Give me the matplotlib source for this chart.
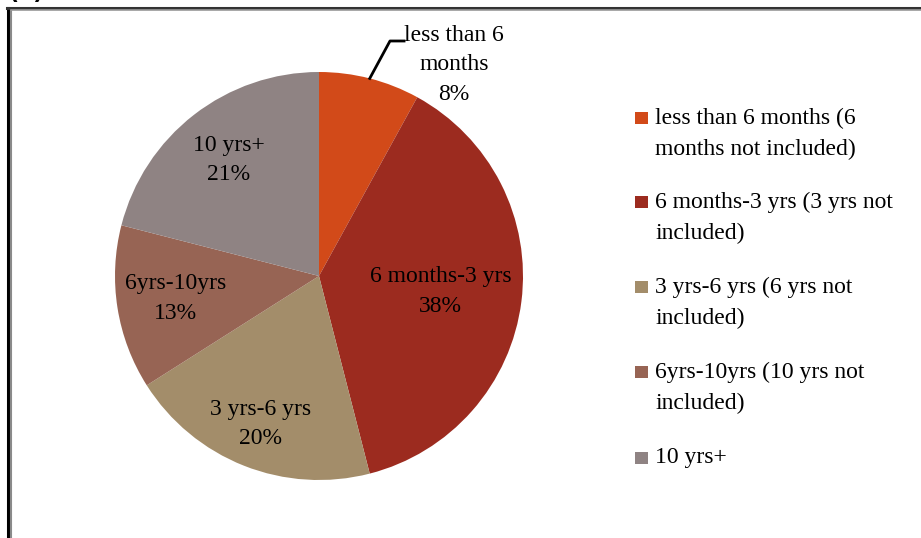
import numpy as np
import matplotlib
matplotlib.use('Agg')
from matplotlib import pyplot as plt
from matplotlib.patches import Rectangle
from matplotlib.lines import Line2D

plt.rcParams['font.family'] = ['Liberation Serif', 'DejaVu Serif']

# data
categories = ['less than 6 months', '6 months-3 yrs', '3 yrs-6 yrs', '6yrs-10yrs', '10 yrs+']
shares = [8, 38, 20, 13, 21]
slice_labels = ['less than 6\nmonths', '6 months-3 yrs', '3 yrs-6 yrs', '6yrs-10yrs', '10 yrs+']
legend_labels = ['less than 6 months (6\nmonths not included)',
                 '6 months-3 yrs (3 yrs not\nincluded)',
                 '3 yrs-6 yrs (6 yrs not\nincluded)',
                 '6yrs-10yrs (10 yrs not\nincluded)',
                 '10 yrs+']
colors = ['#D24A19', '#9C2B1F', '#A38D6A', '#976454', '#8F8383']

W, H = 921, 538
fig = plt.figure(figsize=(W / 100, H / 100), dpi=100)

# pie axes, centre (319, 276) px, radius 204 px
cx, cy, r = 319, 276, 204
ax = fig.add_axes([(cx - r) / W, (H - cy - r) / H, 2 * r / W, 2 * r / H])
wedges, _ = ax.pie(shares, colors=colors, startangle=90, counterclock=False,
                   wedgeprops=dict(linewidth=0))
ax.set_xlim(-1, 1)
ax.set_ylim(-1, 1)
ax.set_aspect('equal')
ax.axis('off')

fs = 17
# inside labels: distance along the wedge's mid angle
dist = [None, 0.6, 0.78, 0.71, 0.72]
for w, lab, val, d in zip(wedges, slice_labels, shares, dist):
    if d is None:
        continue
    ang = np.deg2rad((w.theta1 + w.theta2) / 2)
    ax.text(d * np.cos(ang), d * np.sin(ang), f'{lab}\n{val}%', ha='center', va='center',
            fontsize=fs, color='black', linespacing=1.53)

# outside label with leader for the small slice
w = wedges[0]
ang = np.deg2rad((w.theta1 + w.theta2) / 2)
p0 = (np.cos(ang), np.sin(ang))
ax.add_line(Line2D([p0[0], 0.348, 0.417], [p0[1], 1.152, 1.152], color='black', lw=2,
                   clip_on=False))
ax.text(0.662, 1.036, f'{slice_labels[0]}\n{shares[0]}%', ha='center', va='center',
        fontsize=fs, linespacing=1.53)

# legend drawn by hand to keep the square level with the first text line
baselines = [123, 207, 292, 377, 463]
line_gap = 32
for c, lab, yb in zip(colors, legend_labels, baselines):
    fig.add_artist(Rectangle((635 / W, 1 - (yb + 1) / H), 13 / W, 12 / H,
                             transform=fig.transFigure, color=c, lw=0))
    last = yb + line_gap * lab.count('\n')
    fig.text(655 / W, 1 - last / H, lab, ha='left', va='baseline', fontsize=fs,
             linespacing=1.62)

# frame lines
def px_line(xs, ys, color, lw):
    fig.add_artist(Line2D([x / W for x in xs], [1 - y / H for y in ys],
                          transform=fig.transFigure, color=color, lw=lw))

px_line([7.5, 7.5], [8, H], 'black', 2.2)
px_line([11, 11], [10, H], '#8a8a8a', 1.5)
px_line([7, W], [8, 8], '#333333', 2.2)
px_line([11, W], [10, 10], '#9a9a9a', 1.2)

# panel tag, mostly cut off by the top edge
fig.text(8 / W, 1 + 1 / H, '(a)', ha='left', va='baseline', fontsize=16,
         fontweight='bold', family='DejaVu Sans')

fig.savefig('out.png', dpi=100)
